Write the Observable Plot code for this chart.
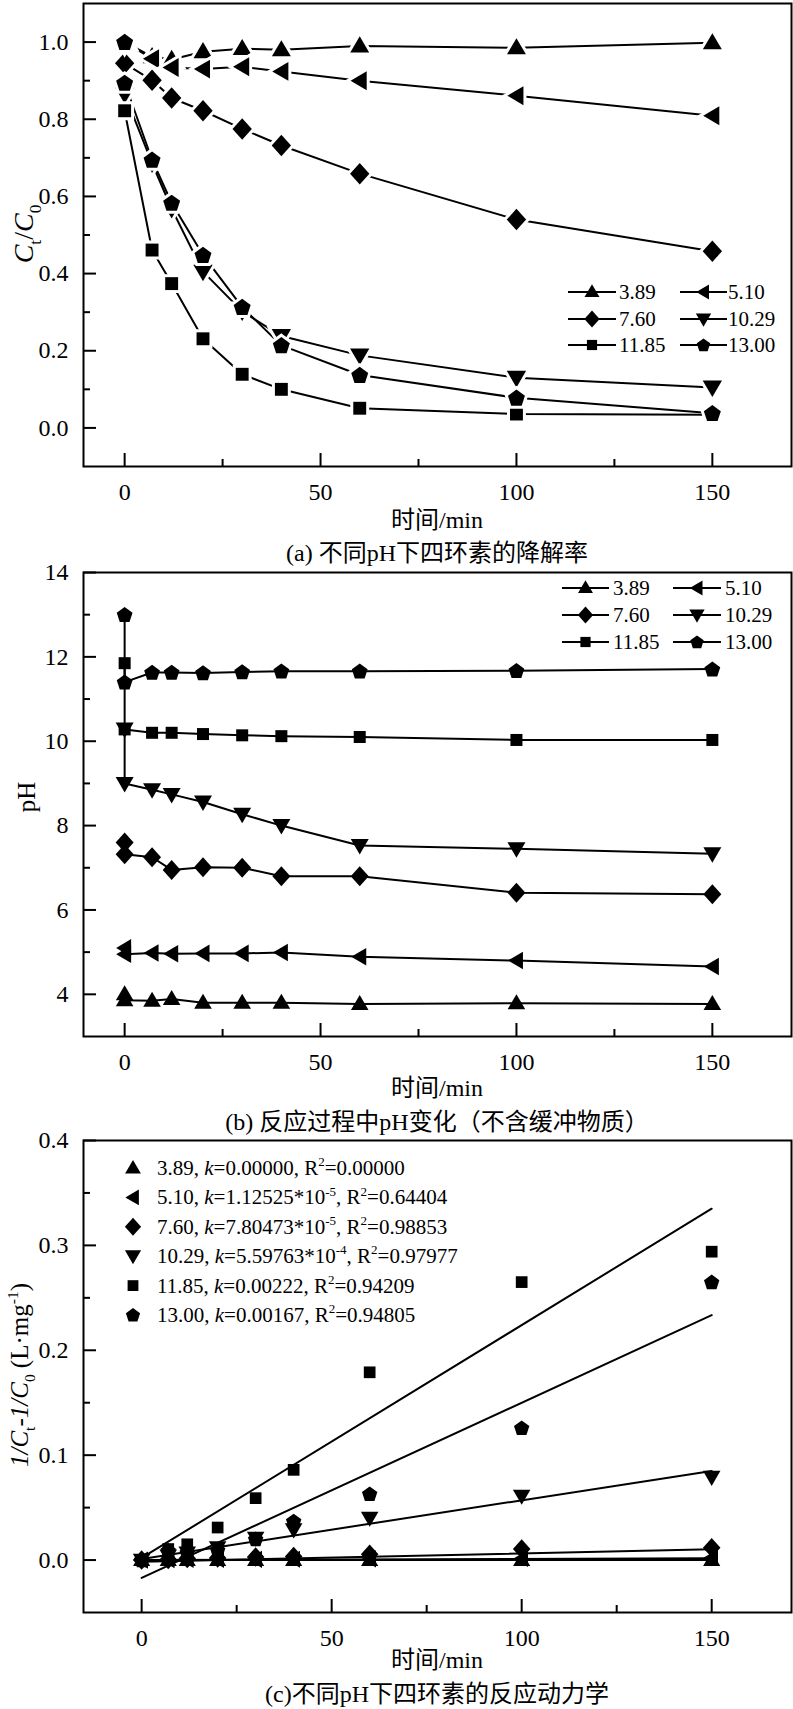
<!DOCTYPE html>
<html><head><meta charset="utf-8">
<script src="https://cdn.jsdelivr.net/npm/d3@7"></script>
<script src="https://cdn.jsdelivr.net/npm/@observablehq/plot@0.6"></script>
<style>
body{margin:0;background:#fff;}
#chart{width:793px;}
#chart svg{display:block;overflow:visible;}
</style></head><body><div id="chart"></div>
<script>
// ---------- data ----------
const phLabels = ["3.89","5.10","7.60","10.29","11.85","13.00"];

// (a) degradation Ct/C0
const timeA = [0,0,7,12,20,30,40,60,100,150];
const ct389  = [1.00,1.00,0.962,0.955,0.975,0.983,0.980,0.990,0.985,0.998];
const ct510  = [1.00,1.00,0.957,0.934,0.930,0.936,0.924,0.900,0.861,0.809];
const ct760  = [1.00,0.945,0.901,0.855,0.822,0.775,0.732,0.659,0.540,0.458];
const ct1029 = [1.00,0.865,0.686,0.568,0.405,0.302,0.238,0.188,0.130,0.105];
const ct1185 = [1.00,0.822,0.461,0.374,0.231,0.139,0.100,0.051,0.036,0.034];
const ct1300 = [1.00,0.894,0.695,0.583,0.448,0.313,0.214,0.137,0.078,0.038];

// (b) pH during reaction
const timeB = [0,0,7,12,20,30,40,60,100,150];
const ph389  = [4.00,3.86,3.85,3.89,3.80,3.80,3.80,3.77,3.79,3.77];
const ph510  = [5.10,4.95,4.98,4.96,4.97,4.97,4.99,4.89,4.80,4.66];
const ph760  = [7.60,7.32,7.25,6.95,7.01,7.00,6.80,6.80,6.41,6.37];
const ph1029 = [10.29,9.00,8.85,8.74,8.56,8.27,8.00,7.53,7.45,7.33];
const ph1185 = [11.85,10.28,10.20,10.20,10.17,10.14,10.12,10.10,10.03,10.03];
const ph1300 = [13.00,11.40,11.63,11.63,11.62,11.64,11.66,11.66,11.67,11.71];

// (c) kinetics 1/Ct - 1/C0
const timeC = [0,7,12,20,30,40,60,100,150];
const kin389  = [0,0,0,0,0,0,0,0,0];
const kin510  = [0,0.0004,0.0007,0.0007,0.0006,0.0008,0.0011,0.0015,0.0022];
const kin760  = [0,0.0005,0.0015,0.002,0.003,0.0035,0.0055,0.0105,0.0117];
const kin1029 = [0,0.004,0.007,0.012,0.021,0.029,0.040,0.061,0.079];
const kin1185 = [0,0.0105,0.015,0.031,0.059,0.086,0.179,0.265,0.294];
const kin1300 = [0,0.009,0.007,0.0095,0.020,0.037,0.063,0.126,0.265];
const kValues   = [0, 1.12525e-5, 7.80473e-5, 5.59763e-4, 0.00222, 0.00167];
const intercepts = [0, 0, -0.0015, 0.001, 0.002, -0.017];
const fitRange = [0, 150];
const kText  = ["0.00000","1.12525*10","7.80473*10","5.59763*10","0.00222","0.00167"];
const kExp   = ["","-5","-5","-4","",""];
const r2Text = ["0.00000","0.64404","0.98853","0.97977","0.94209","0.94805"];

// axes ticks
const xMajor = [0,50,100,150], xMinor = [25,75,125];
const yMajorA = [0,0.2,0.4,0.6,0.8,1.0], yMinorA = [0.1,0.3,0.5,0.7,0.9];
const yMajorB = [4,6,8,10,12,14], yMinorB = [5,7,9,11,13];
const yMajorC = [0,0.1,0.2,0.3,0.4], yMinorC = [0.05,0.15,0.25,0.35];

// ---------- symbols ----------
function poly(pts){ return {draw(ctx,size){ const s=Math.sqrt(size/Math.PI)/8;
  ctx.moveTo(pts[0][0]*s,pts[0][1]*s); for(let i=1;i<pts.length;i++) ctx.lineTo(pts[i][0]*s,pts[i][1]*s); ctx.closePath(); }}; }
const symTriUp   = poly([[0,-9],[8.8,6],[-8.8,6]]);
const symTriLeft = poly([[-8.5,0],[6.5,-8.8],[6.5,8.8]]);
const symDiamond = poly([[0,-10],[9,0],[0,10],[-9,0]]);
const symTriDown = poly([[0,9],[9,-6.5],[-9,-6.5]]);
const symSquare  = poly([[-6,-6],[6,-6],[6,6],[-6,6]]);
const symPent    = poly(d3.range(5).map(i=>[8.3*Math.sin(i*2*Math.PI/5), -8.3*Math.cos(i*2*Math.PI/5)+0.6]));
const symbols = [symTriUp, symTriLeft, symDiamond, symTriDown, symSquare, symPent];

// ---------- helpers ----------
const W = 793, ML = 83, MR = 2;
const FONT = "'Liberation Serif','Times New Roman','Noto Sans CJK SC',serif";

function panel({height, mt, mb, xDomain, yDomain, yMajor, yMinor, yFormat, marks}) {
  const fw = W-ML-MR, fh = height-mt-mb;
  const tick = {stroke:"black", strokeWidth:2};
  return Plot.plot({
    width: W, height, marginLeft: ML, marginRight: MR, marginTop: mt, marginBottom: mb,
    style: {fontFamily: FONT, fontSize: "24px", color: "black", overflow: "visible"},
    x: {domain: xDomain}, y: {domain: yDomain},
    marks: [
      ...marks,
      Plot.ruleY(yMajor, {y: d=>d, insetRight: fw-13, ...tick}),
      Plot.ruleY(yMinor, {y: d=>d, insetRight: fw-7, ...tick}),
      Plot.ruleX(xMajor, {x: d=>d, insetTop: fh-13, ...tick}),
      Plot.ruleX(xMinor, {x: d=>d, insetTop: fh-7, ...tick}),
      Plot.axisY({ticks: yMajor, tickSize: 0, tickPadding: 15, tickFormat: yFormat, fontSize: 24, label: null}),
      Plot.axisX({ticks: xMajor, tickSize: 0, tickPadding: 16, tickFormat: d3.format("d"), fontSize: 24, label: null}),
      Plot.frame({stroke: "black", strokeWidth: 2})
    ]
  });
}

function rich(sel, x, y, parts, size, opts={}) {
  const t = sel.append("text").attr("font-size", size).attr("fill","black")
    .attr("font-family", FONT).attr("text-anchor", opts.anchor || "start");
  if (opts.rotate) t.attr("transform", `translate(${x},${y}) rotate(-90)`);
  else t.attr("x", x).attr("y", y);
  let shift = 0;
  for (const [str, st] of parts) {
    const sp = t.append("tspan").text(str);
    let target = 0;
    if (st === "sub") target = 0.28*size;
    if (st === "sup") target = -0.42*size;
    sp.attr("dy", target - shift); shift = target;
    if (st === "sub" || st === "sup") sp.attr("font-size", size*0.62);
    if (st === "i") sp.attr("font-style", "italic");
  }
  return t;
}

function symPath(sym, scale) { return d3.symbol(sym, Math.PI*(8*scale)**2)(); }

function lineLegend(svg, rows, cols, labels) {
  const g = d3.select(svg).append("g");
  labels.forEach((lab, i) => {
    const r = Math.floor(i/2), c = i%2;
    const y = rows[r], C = cols[c];
    g.append("line").attr("x1", C.x1).attr("x2", C.x2).attr("y1", y).attr("y2", y).attr("stroke","black").attr("stroke-width",2);
    g.append("path").attr("d", symPath(symbols[i], 0.85)).attr("transform", `translate(${(C.x1+C.x2)/2},${y})`).attr("fill","black");
    g.append("text").attr("x", C.tx).attr("y", y+7).attr("text-anchor","start").attr("font-size", 21)
      .attr("font-family", FONT).attr("fill","black").text(lab);
  });
}

function centerText(svg, x, y, str, size) {
  d3.select(svg).append("text").attr("x", x).attr("y", y).attr("text-anchor","middle")
    .attr("font-size", size).attr("font-family", FONT).attr("fill","black").text(str);
}

const chart = document.getElementById("chart");

// ---------- panel (a) ----------
const rowsA = [ct389,ct510,ct760,ct1029,ct1185,ct1300].flatMap((vals,i)=>vals.map((v,j)=>({t: timeA[j], v, s: i})));
const svgA = panel({
  height: 570, mt: 3, mb: 104, xDomain: [-10.5, 170.2], yDomain: [-0.1, 1.1],
  yMajor: yMajorA, yMinor: yMinorA, yFormat: d3.format(".1f"),
  marks: [
    Plot.line(rowsA, {x:"t", y:"v", z:"s", stroke:"black", strokeWidth:2}),
    ...symbols.map((sym,i)=>Plot.dot(rowsA.filter(d=>d.s===i), {x:"t", y:"v", symbol: sym, r: 8.6, fill:"black", stroke:"white", strokeWidth:6, paintOrder:"stroke"}))
  ]
});
chart.appendChild(svgA);
lineLegend(svgA, [292,319,345], [{x1:568,x2:616,tx:619},{x1:680,x2:727,tx:728}], phLabels);
centerText(svgA, 437, 528, "时间/min", 24);
centerText(svgA, 437, 561, "(a) 不同pH下四环素的降解率", 24);
rich(d3.select(svgA), 33, 234, [["C","i"],["t","sub"],["/",""],["C","i"],["0","sub"]], 28, {rotate:true, anchor:"middle"});

// ---------- panel (b) ----------
const offB = 570;
const rowsB = [ph389,ph510,ph760,ph1029,ph1185,ph1300].flatMap((vals,i)=>vals.map((v,j)=>({t: timeB[j], v, s: i})));
const dotOrderB = [0,1,2,4,5,3];
const svgB = panel({
  height: 566, mt: 2, mb: 100, xDomain: [-10.5, 170.2], yDomain: [3, 14],
  yMajor: yMajorB, yMinor: yMinorB, yFormat: d3.format("d"),
  marks: [
    Plot.line(rowsB, {x:"t", y:"v", z:"s", stroke:"black", strokeWidth:2}),
    ...dotOrderB.map(i=>Plot.dot(rowsB.filter(d=>d.s===i), {x:"t", y:"v", symbol: symbols[i], r: 8, fill:"black"}))
  ]
});
chart.appendChild(svgB);
lineLegend(svgB, [588-offB,615-offB,642-offB], [{x1:562,x2:609,tx:613},{x1:673,x2:721,tx:725}], phLabels);
centerText(svgB, 437, 1096-offB, "时间/min", 24);
centerText(svgB, 437, 1130-offB, "(b) 反应过程中pH变化（不含缓冲物质）", 24);
rich(d3.select(svgB), 35, 797-offB, [["pH",""]], 25, {rotate:true, anchor:"middle"});

// ---------- panel (c) ----------
const offC = 1136;
const rowsC = [kin389,kin510,kin760,kin1029,kin1185,kin1300].flatMap((vals,i)=>vals.map((v,j)=>({t: timeC[j], v, s: i})));
const fitRows = kValues.flatMap((k,i)=>fitRange.map(t=>({t, v: intercepts[i] + k*t, s: i})));
const svgC = panel({
  height: 573, mt: 4, mb: 97, xDomain: [-15.3, 171], yDomain: [-0.05, 0.4],
  yMajor: yMajorC, yMinor: yMinorC, yFormat: d3.format(".1f"),
  marks: [
    Plot.line(fitRows, {x:"t", y:"v", z:"s", stroke:"black", strokeWidth:2}),
    ...symbols.map((sym,i)=>Plot.dot(rowsC.filter(d=>d.s===i), {x:"t", y:"v", symbol: sym, r: 7.8, fill:"black"}))
  ]
});
chart.appendChild(svgC);
{
  const g = d3.select(svgC).append("g");
  phLabels.forEach((lab,i)=>{
    const y = 1168 - offC + i*29.4;
    g.append("path").attr("d", symPath(symbols[i], 0.9)).attr("transform", `translate(133,${y})`).attr("fill","black");
    const parts = [[lab+", ",""],["k","i"],["="+kText[i],""]];
    if (kExp[i]) parts.push([kExp[i],"sup"]);
    parts.push([", R",""],["2","sup"],["="+r2Text[i],""]);
    rich(g, 157, y+7, parts, 21);
  });
}
centerText(svgC, 437, 1668-offC, "时间/min", 24);
centerText(svgC, 437, 1702-offC, "(c)不同pH下四环素的反应动力学", 24);
rich(d3.select(svgC), 28, 1375-offC, [["1/C","i"],["t","sub"],["-1/C","i"],["0","sub"],[" (L·mg",""],["-1","sup"],[")",""]], 25, {rotate:true, anchor:"middle"});
</script></body></html>
